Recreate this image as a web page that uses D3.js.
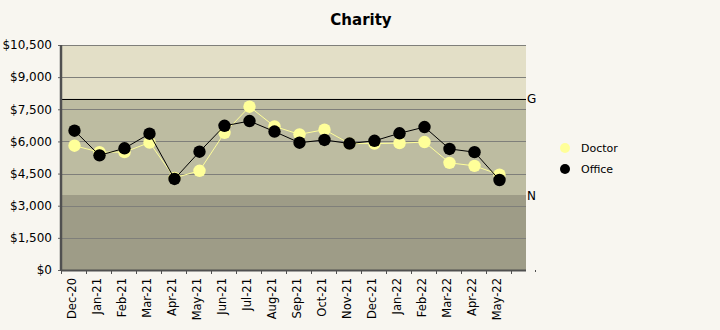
<!DOCTYPE html>
<html>
<head>
<meta charset="utf-8">
<script src="https://cdn.jsdelivr.net/npm/d3@7"></script>
<style>
  html, body { margin: 0; padding: 0; background: #f8f6f0; }
  svg { display: block; font-family: "DejaVu Sans", Verdana, sans-serif; }
</style>
</head>
<body>
<svg id="chart" width="720" height="330"></svg>
<script>
const months = ["Dec-20","Jan-21","Feb-21","Mar-21","Apr-21","May-21","Jun-21","Jul-21","Aug-21",
  "Sep-21","Oct-21","Nov-21","Dec-21","Jan-22","Feb-22","Mar-22","Apr-22","May-22"];
const doctor = [5800, 5500, 5500, 5950, 4300, 4630, 6400, 7620, 6700, 6330, 6550, 5900, 5900, 5920, 5970, 5000, 4860, 4450];
const office = [6500, 5350, 5680, 6360, 4250, 5520, 6730, 6950, 6460, 5940, 6070, 5900, 6030, 6380, 6670, 5650, 5500, 4200];
const yTicks = [0, 1500, 3000, 4500, 6000, 7500, 9000, 10500];
const bands = [
  { from: 8000, to: 10500, color: "#e3dfc7" },
  { from: 3500, to: 8000, color: "#bdbca1" },
  { from: 0, to: 3500, color: "#9e9c87" }
];
const markers = [ { label: "G", value: 8000 }, { label: "N", value: 3500 } ];
const series = [
  { name: "Doctor", values: doctor, color: "#ffff99" },
  { name: "Office", values: office, color: "#000000" }
];

const svg = d3.select("#chart");
const plotLeft = 61, plotRight = 526, catRight = 511, plotTop = 45, plotBottom = 270;

const x = d3.scaleBand().domain(months).range([plotLeft, catRight]);
const y = d3.scaleLinear().domain([0, 10500]).range([plotBottom, plotTop]);

// title
svg.append("text").attr("x", 361).attr("y", 25).attr("text-anchor", "middle")
  .attr("font-size", 15).attr("font-weight", "bold").attr("fill", "#000").text("Charity");

// background bands
svg.selectAll("rect.band").data(bands).join("rect").attr("class", "band")
  .attr("x", plotLeft).attr("width", plotRight - plotLeft)
  .attr("y", d => y(d.to)).attr("height", d => y(d.from) - y(d.to))
  .attr("fill", d => d.color);

// gridlines
svg.selectAll("line.grid").data(yTicks.filter(v => v > 0)).join("line").attr("class", "grid")
  .attr("x1", plotLeft).attr("x2", plotRight)
  .attr("y1", d => Math.round(y(d)) + 0.5).attr("y2", d => Math.round(y(d)) + 0.5)
  .attr("stroke", "#7f7f7a").attr("stroke-width", 1);

// threshold lines and labels
svg.selectAll("line.mark").data(markers).join("line").attr("class", "mark")
  .attr("x1", plotLeft).attr("x2", plotRight)
  .attr("y1", d => Math.round(y(d.value)) + 0.5).attr("y2", d => Math.round(y(d.value)) + 0.5)
  .attr("stroke", d => d.label === "G" ? "#000" : "none");
svg.selectAll("text.mark").data(markers).join("text").attr("class", "mark")
  .attr("x", plotRight + 1).attr("y", d => y(d.value) + 4.5)
  .attr("font-size", 12).attr("fill", "#000").text(d => d.label);

// y axis
const yAxis = d3.axisLeft(y).tickValues(yTicks).tickSize(3).tickPadding(6)
  .tickFormat(d => "$" + d3.format(",")(d));
const gy = svg.append("g").attr("transform", `translate(${plotLeft},0)`).call(yAxis);
gy.select(".domain").remove();
gy.selectAll(".tick line").attr("stroke", "#666");
gy.selectAll(".tick text").attr("font-size", 12).attr("fill", "#000")
  .attr("font-family", "DejaVu Sans, Verdana, sans-serif");
svg.append("line").attr("x1", plotLeft).attr("x2", plotLeft).attr("y1", plotTop).attr("y2", plotBottom + 1)
  .attr("stroke", "#505050").attr("stroke-width", 2.5);

// x axis
const xAxis = d3.axisBottom(x).tickSize(0).tickPadding(0);
const gx = svg.append("g").attr("transform", `translate(0,${plotBottom})`).call(xAxis);
gx.select(".domain").remove();
gx.selectAll(".tick text").attr("font-size", 11.5).attr("fill", "#000")
  .attr("font-family", "DejaVu Sans, Verdana, sans-serif")
  .attr("text-anchor", "end").attr("dy", null)
  .attr("transform", "translate(-2,8) rotate(-90)")
  .attr("dominant-baseline", "central");
svg.append("line").attr("x1", plotLeft).attr("x2", plotRight).attr("y1", plotBottom + 0.5).attr("y2", plotBottom + 0.5)
  .attr("stroke", "#505050").attr("stroke-width", 2);
const edges = months.map(m => x(m)).concat([catRight]);
svg.selectAll("line.xt").data(edges).join("line").attr("class", "xt")
  .attr("x1", d => Math.round(d) + 0.5).attr("x2", d => Math.round(d) + 0.5)
  .attr("y1", plotBottom).attr("y2", plotBottom + 4).attr("stroke", "#505050");
svg.append("line").attr("x1", 535.5).attr("x2", 535.5).attr("y1", plotBottom).attr("y2", plotBottom + 2)
  .attr("stroke", "#505050");

// series
const cx = m => x(m) + x.bandwidth() / 2 + 1;
const line = d3.line().x((d, i) => cx(months[i])).y(d => y(d));
series.forEach(s => {
  svg.append("path").datum(s.values).attr("d", line)
    .attr("fill", "none").attr("stroke", s.color).attr("stroke-width", 1);
  svg.append("g").selectAll("circle").data(s.values).join("circle")
    .attr("cx", (d, i) => cx(months[i])).attr("cy", d => y(d)).attr("r", 6.2)
    .attr("fill", s.color);
});

// legend
const lg = svg.append("g").selectAll("g").data(series).join("g")
  .attr("transform", (d, i) => `translate(565,${148 + i * 21})`);
lg.append("circle").attr("r", 5).attr("fill", d => d.color);
lg.append("text").attr("x", 16).attr("y", 4).attr("font-size", 11).attr("fill", "#000").text(d => d.name);
</script>
</body>
</html>
